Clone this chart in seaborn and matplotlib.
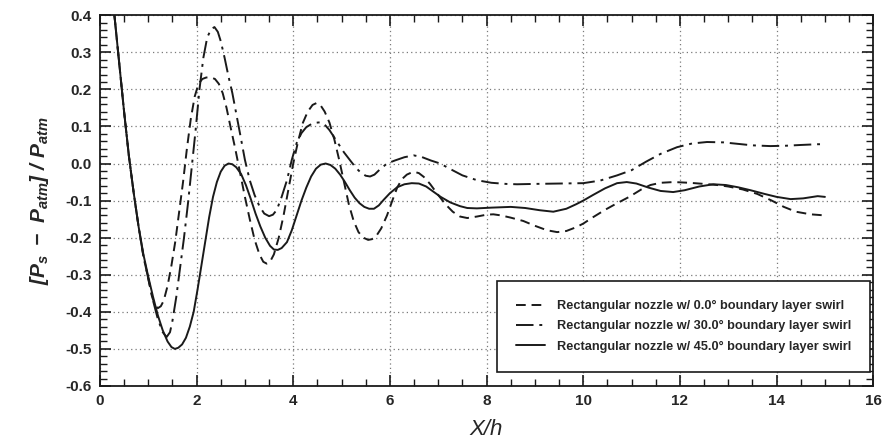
import numpy as np
import pandas as pd
import matplotlib
matplotlib.use('Agg')
import matplotlib.pyplot as plt
from matplotlib.ticker import MultipleLocator, FormatStrFormatter
import seaborn as sns

# values
x_swirl00 = [0.30, 0.40, 0.50, 0.60, 0.70, 0.80, 0.90, 1.00, 1.08, 1.15, 1.20, 1.26, 1.32, 1.40,
             1.48, 1.56, 1.64, 1.72, 1.80, 1.88, 1.96, 2.04, 2.12, 2.20, 2.30, 2.38, 2.46,
             2.54, 2.62, 2.70, 2.80, 2.90, 3.00, 3.10, 3.20, 3.30, 3.38, 3.45, 3.52, 3.60,
             3.70, 3.80, 3.90, 4.00, 4.10, 4.20, 4.30, 4.40, 4.48, 4.56, 4.65, 4.75, 4.85,
             4.95, 5.05, 5.15, 5.25, 5.35, 5.45, 5.55, 5.63, 5.72, 5.82, 5.94, 6.05, 6.15,
             6.25, 6.35, 6.45, 6.52, 6.60, 6.70, 6.83, 7.00, 7.15, 7.30, 7.45, 7.60, 7.80,
             8.00, 8.14, 8.30, 8.50, 8.76, 9.00, 9.25, 9.46, 9.65, 9.85, 10.0, 10.2, 10.45,
             10.7, 10.95, 11.2, 11.39, 11.6, 11.87, 12.2, 12.5, 12.77, 13.0, 13.3, 13.6,
             13.9, 14.15, 14.4, 14.7, 15.0]
y_swirl00 = [0.40, 0.27, 0.14, 0.02, -0.08, -0.17, -0.25, -0.31, -0.36, -0.385, -0.39, -0.385,
             -0.37, -0.33, -0.275, -0.21, -0.13, -0.05, 0.04, 0.12, 0.18, 0.215, 0.228, 0.232,
             0.232, 0.228, 0.215, 0.19, 0.15, 0.10, 0.04, -0.025, -0.09, -0.15, -0.205,
             -0.245, -0.265, -0.27, -0.265, -0.245, -0.20, -0.14, -0.07, 0.0, 0.06, 0.11,
             0.14, 0.158, 0.163, 0.158, 0.14, 0.11, 0.065, 0.01, -0.05, -0.11, -0.155,
             -0.185, -0.20, -0.206, -0.204, -0.195, -0.175, -0.14, -0.10, -0.065, -0.042,
             -0.03, -0.024, -0.023, -0.026, -0.036, -0.055, -0.085, -0.11, -0.13, -0.143,
             -0.147, -0.143, -0.138, -0.137, -0.14, -0.146, -0.155, -0.168, -0.18, -0.185,
             -0.182, -0.172, -0.162, -0.145, -0.125, -0.107, -0.09, -0.07, -0.058, -0.052,
             -0.05, -0.052, -0.055, -0.058, -0.062, -0.07, -0.082, -0.10, -0.117, -0.13,
             -0.137, -0.14]

x_swirl30 = [0.30, 0.40, 0.50, 0.60, 0.70, 0.80, 0.90, 1.00, 1.10, 1.20, 1.30, 1.38, 1.45, 1.50,
             1.58, 1.66, 1.74, 1.82, 1.90, 1.98, 2.06, 2.14, 2.22, 2.30, 2.37, 2.44, 2.50,
             2.58, 2.66, 2.74, 2.82, 2.90, 3.00, 3.10, 3.20, 3.30, 3.40, 3.50, 3.58, 3.66,
             3.76, 3.87, 3.97, 4.07, 4.17, 4.27, 4.37, 4.47, 4.55, 4.65, 4.75, 4.85, 4.95,
             5.05, 5.18, 5.30, 5.40, 5.50, 5.59, 5.68, 5.80, 5.94, 6.10, 6.30, 6.49, 6.65,
             6.85, 7.04, 7.25, 7.50, 7.80, 8.10, 8.40, 8.63, 9.00, 9.50, 10.0, 10.35, 10.7,
             11.0, 11.3, 11.6, 11.94, 12.25, 12.56, 12.9, 13.2, 13.5, 13.87, 14.2, 14.5,
             14.85, 15.0]
y_swirl30 = [0.40, 0.27, 0.14, 0.02, -0.08, -0.17, -0.25, -0.31, -0.37, -0.42, -0.455, -0.468,
             -0.455, -0.425, -0.36, -0.28, -0.20, -0.11, -0.01, 0.09, 0.20, 0.285, 0.34,
             0.362, 0.368, 0.355, 0.33, 0.285, 0.235, 0.19, 0.135, 0.08, 0.01, -0.045,
             -0.085, -0.115, -0.135, -0.142, -0.138, -0.125, -0.09, -0.045, 0.01, 0.055,
             0.082, 0.098, 0.106, 0.11, 0.111, 0.105, 0.09, 0.07, 0.05, 0.03, 0.008,
             -0.012, -0.025, -0.033, -0.035, -0.03, -0.015, 0.0, 0.008, 0.017, 0.022,
             0.018, 0.008, 0.0, -0.015, -0.032, -0.045, -0.052, -0.055, -0.056, -0.055,
             -0.054, -0.053, -0.046, -0.032, -0.018, 0.005, 0.026, 0.044, 0.054, 0.058,
             0.057, 0.053, 0.049, 0.047, 0.048, 0.05, 0.052, 0.052]

x_swirl45 = [0.30, 0.40, 0.50, 0.60, 0.70, 0.80, 0.90, 1.00, 1.10, 1.20, 1.30, 1.40, 1.48, 1.55,
             1.62, 1.70, 1.78, 1.86, 1.94, 2.02, 2.10, 2.18, 2.26, 2.34, 2.42, 2.50, 2.58,
             2.66, 2.74, 2.82, 2.92, 3.02, 3.12, 3.22, 3.32, 3.42, 3.52, 3.60, 3.68, 3.76,
             3.87, 3.97, 4.07, 4.17, 4.27, 4.37, 4.47, 4.57, 4.67, 4.77, 4.87, 4.97, 5.07,
             5.17, 5.27, 5.37, 5.47, 5.57, 5.67, 5.77, 5.87, 6.00, 6.15, 6.30, 6.45, 6.60,
             6.75, 6.90, 7.05, 7.25, 7.45, 7.60, 7.80, 8.10, 8.50, 8.80, 9.10, 9.38, 9.65,
             9.85, 10.0, 10.2, 10.45, 10.7, 10.9, 11.1, 11.35, 11.6, 11.86, 12.1, 12.4,
             12.69, 12.95, 13.2, 13.46, 13.75, 14.0, 14.29, 14.55, 14.85, 15.0]
y_swirl45 = [0.40, 0.27, 0.14, 0.02, -0.08, -0.17, -0.245, -0.305, -0.36, -0.41, -0.45, -0.48,
             -0.495, -0.50, -0.497, -0.488, -0.47, -0.44, -0.40, -0.34, -0.275, -0.21,
             -0.145, -0.09, -0.05, -0.022, -0.006, 0.0, -0.002, -0.01, -0.028, -0.058,
             -0.095, -0.135, -0.17, -0.20, -0.222, -0.232, -0.233, -0.228, -0.212, -0.18,
             -0.14, -0.10, -0.065, -0.035, -0.014, -0.003, 0.0, -0.004, -0.014, -0.03,
             -0.05, -0.072, -0.092, -0.107, -0.117, -0.122, -0.122, -0.113, -0.098, -0.08,
             -0.064, -0.056, -0.053, -0.054, -0.062, -0.076, -0.09, -0.105, -0.115, -0.12,
             -0.121, -0.119, -0.117, -0.12, -0.126, -0.13, -0.122, -0.11, -0.10, -0.085,
             -0.067, -0.053, -0.05, -0.054, -0.065, -0.074, -0.077, -0.072, -0.062, -0.056,
             -0.058, -0.064, -0.072, -0.082, -0.09, -0.096, -0.094, -0.088, -0.09]

labels = ['Rectangular nozzle w/ 0.0° boundary layer swirl',
          'Rectangular nozzle w/ 30.0° boundary layer swirl',
          'Rectangular nozzle w/ 45.0° boundary layer swirl']

sns.set_style('ticks')
plt.rcParams['font.family'] = ['Liberation Sans', 'DejaVu Sans']
plt.rcParams['mathtext.fontset'] = 'custom'
plt.rcParams['mathtext.rm'] = 'Liberation Sans:italic:bold'
plt.rcParams['mathtext.it'] = 'Liberation Sans:italic:bold'
plt.rcParams['mathtext.bf'] = 'Liberation Sans:italic:bold'

fig = plt.figure(figsize=(8.92, 4.47), dpi=100)
ax = fig.add_axes([0.112, 0.1365, 0.867, 0.8295])

series = [(x_swirl00, y_swirl00, (0, (5, 3))),
          (x_swirl30, y_swirl30, (0, (9, 3, 1.5, 3))),
          (x_swirl45, y_swirl45, '-')]
for (xs, ys, ls), lab in zip(series, labels):
    sns.lineplot(x=xs, y=ys, ax=ax, color='#1a1a1a', lw=1.4, linestyle=ls,
                 label=lab, sort=False, estimator=None)

ax.set_xlim(0, 16)
ax.set_ylim(-0.6, 0.4)
ax.xaxis.set_major_locator(MultipleLocator(2))
ax.xaxis.set_minor_locator(MultipleLocator(0.5))
ax.yaxis.set_major_locator(MultipleLocator(0.1))
ax.yaxis.set_minor_locator(MultipleLocator(0.02))
ax.yaxis.set_major_formatter(FormatStrFormatter('%.1f'))
ax.grid(True, which='major', color='#7a7a7a', linestyle=(0, (1, 2.5)), lw=0.9)

ax.tick_params(which='both', direction='in', top=True, right=True, color='#1a1a1a')
ax.tick_params(which='major', length=8, width=1.2, labelsize=11, pad=6)
ax.tick_params(which='minor', length=5, width=1.0)
for lbl in ax.get_xticklabels() + ax.get_yticklabels():
    lbl.set_fontweight('bold')
for sp in ax.spines.values():
    sp.set_linewidth(1.3)
    sp.set_color('#1a1a1a')

ax.set_xlabel('X/h', fontsize=16, style='italic', labelpad=8)
ax.set_ylabel(r'$[P_s\ -\ P_{atm}]\ /\ P_{atm}$', fontsize=15, labelpad=10)

leg = ax.legend(loc='lower right', bbox_to_anchor=(0.996, 0.038), borderaxespad=0,
                fancybox=False, edgecolor='#1a1a1a', framealpha=1,
                prop={'size': 9.2, 'weight': 'bold'},
                handlelength=2.3, handletextpad=0.9, borderpad=1.5, labelspacing=0.65)
leg.get_frame().set_linewidth(1.2)

fig.savefig('out.png', dpi=100)
